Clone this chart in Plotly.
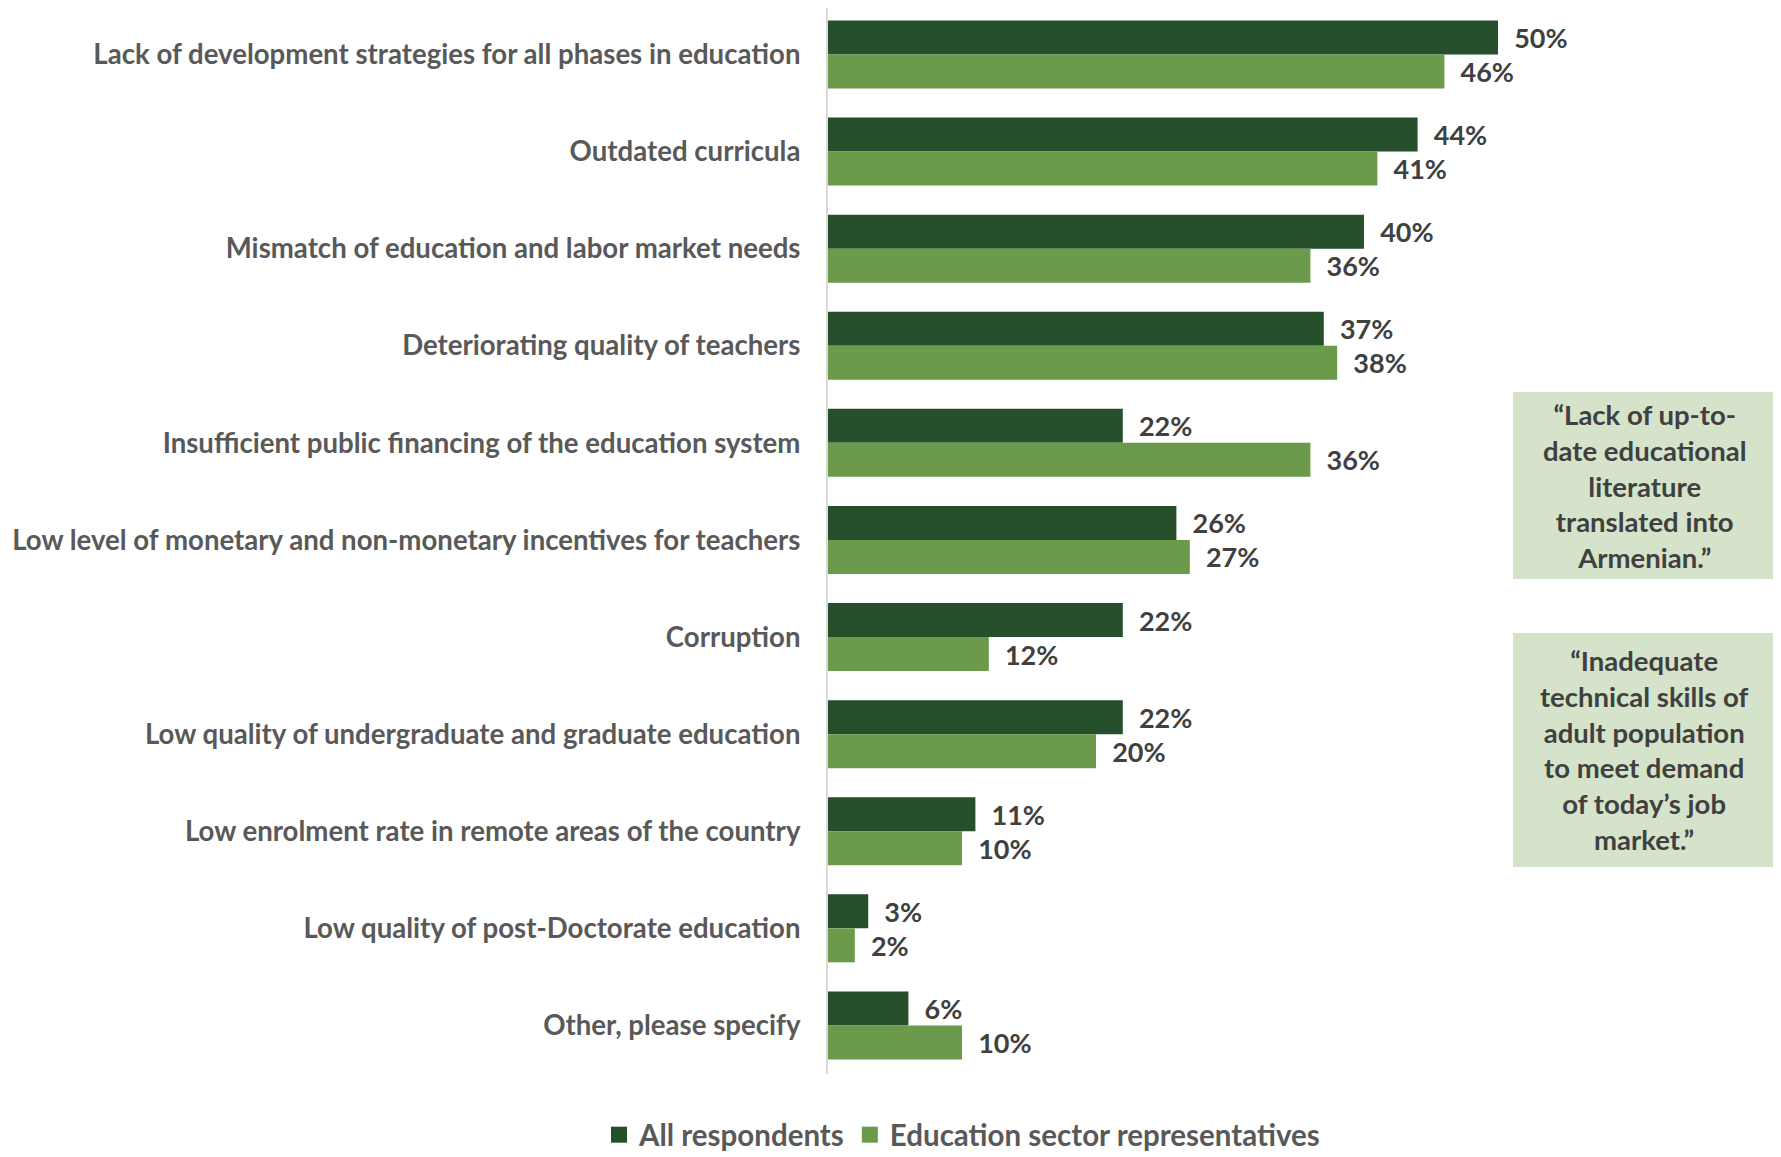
import plotly.graph_objects as go

categories = [
    "Lack of development strategies for all phases in education",
    "Outdated curricula",
    "Mismatch of education and labor market needs",
    "Deteriorating quality of teachers",
    "Insufficient public financing of the education system",
    "Low level of monetary and non-monetary incentives for teachers",
    "Corruption",
    "Low quality of undergraduate and graduate education",
    "Low enrolment rate in remote areas of the country",
    "Low quality of post-Doctorate education",
    "Other, please specify",
]
all_respondents = [50, 44, 40, 37, 22, 26, 22, 22, 11, 3, 6]
education_sector = [46, 41, 36, 38, 36, 27, 12, 20, 10, 2, 10]
series_names = ["All respondents", "Education sector representatives"]
quotes = [
    "“Lack of up-to-<br>date educational<br>literature<br>translated into<br>Armenian.”",
    "“Inadequate<br>technical skills of<br>adult population<br>to meet demand<br>of today’s job<br>market.”",
]

# page body has an 8px margin; figure coordinates = target - 8
OFF = 8
W, H = 1773, 1149
ML, MR, MT, MB = 820, 18, 0, 83
PW = W - ML - MR
PH = H - MT - MB
px_per_pct = 13.4
xmax = PW / px_per_pct
pitch = 97.1
y_top = 10.5 - PH / pitch  # reversed category axis, top value

def px_x(p):
    return (p - OFF - ML) / PW

def px_y(p):
    return (H - MB - (p - OFF)) / PH

FONT = "Lato"
DARK = "#264F2C"
LIGHT = "#6A9A4A"

fig = go.Figure()
for name, vals, col in [(series_names[0], all_respondents, DARK),
                        (series_names[1], education_sector, LIGHT)]:
    fig.add_trace(go.Bar(
        y=categories, x=vals, name=name, orientation="h",
        marker=dict(color=col, line=dict(width=0)),
        text=[f"\u00a0\u00a0{v}%" for v in vals],
        textposition="outside", cliponaxis=False, constraintext="none",
        textfont=dict(family=FONT, size=27, color="#404040", weight="bold"),
        showlegend=False,
    ))
    fig.add_trace(go.Scatter(
        x=[None], y=[None], mode="markers", name=name,
        marker=dict(symbol="square", size=18, color=col),
        showlegend=True,
    ))

shapes = []
annotations = []
boxes = [(1513, 1775, 392, 579), (1513, 1775, 633, 867)]
for (x0, x1, y0, y1), q in zip(boxes, quotes):
    shapes.append(dict(type="rect", xref="paper", yref="paper",
                       x0=px_x(x0), x1=px_x(x1), y0=px_y(y1), y1=px_y(y0),
                       fillcolor="#D5E3CB", line=dict(width=0), layer="below"))
    annotations.append(dict(xref="paper", yref="paper",
                            x=px_x((x0 + x1) / 2), y=px_y((y0 + y1) / 2),
                            text=q, showarrow=False, align="center",
                            xanchor="center", yanchor="middle",
                            font=dict(family=FONT, size=27.5, color="#404040", weight="bold")))

fig.update_layout(
    width=W, height=H,
    margin=dict(l=ML, r=MR, t=MT, b=MB, autoexpand=False),
    plot_bgcolor="white", paper_bgcolor="white",
    barmode="group", bargap=0.3, bargroupgap=0,
    xaxis=dict(range=[0, xmax], showgrid=False, zeroline=False,
               showticklabels=False, showline=False),
    yaxis=dict(range=[10.5, y_top], showgrid=False, zeroline=False,
               showline=True, linecolor="#D9D9D9", linewidth=2,
               ticks="outside", ticklen=20, tickcolor="rgba(0,0,0,0)",
               tickfont=dict(family=FONT, size=27.6, color="#595959", weight="bold")),
    legend=dict(orientation="h", x=px_x(962), y=px_y(1135),
                xanchor="center", yanchor="middle",
                font=dict(family=FONT, size=29.5, color="#595959", weight="bold"),
                traceorder="normal", itemsizing="trace"),
    shapes=shapes, annotations=annotations,
)
fig.write_html("out.html")
